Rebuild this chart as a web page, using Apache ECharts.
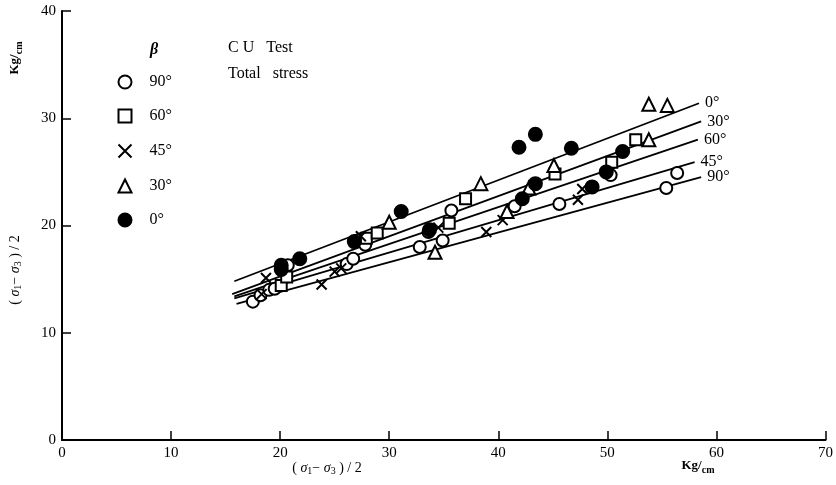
<!DOCTYPE html>
<html>
<head>
<meta charset="utf-8">
<script src="https://cdn.jsdelivr.net/npm/echarts@6/dist/echarts.min.js"></script>
<style>
  html, body { margin: 0; padding: 0; background: #fff; }
  #chart { width: 836px; height: 485px; }
</style>
</head>
<body>
<div id="chart"></div>
<script>
// 试验点 β (x, y) 单位 Kg/cm²
const beta90 = [[17.5, 12.9], [18.2, 13.5], [19.0, 14.0], [19.5, 14.1], [20.7, 16.3], [26.1, 16.4], [26.7, 16.9],
  [27.8, 18.2], [32.8, 18.0], [33.6, 19.4], [34.9, 18.6], [35.7, 21.4], [41.5, 21.8], [45.6, 22.0],
  [50.3, 24.7], [55.4, 23.5], [56.4, 24.9]]
const beta60 = [[20.1, 14.4], [20.6, 15.2], [27.9, 18.8], [28.9, 19.3], [35.5, 20.2], [37.0, 22.5],
  [45.2, 24.8], [50.4, 25.9], [52.6, 28.0]]
const beta45 = [[18.3, 13.6], [18.7, 15.1], [23.8, 14.5], [25.0, 15.7], [25.6, 16.0], [27.4, 19.0],
  [34.5, 19.8], [38.9, 19.4], [40.4, 20.5], [47.3, 22.4], [47.7, 23.4]]
const beta30 = [[30.0, 20.3], [34.2, 17.5], [38.4, 23.9], [40.8, 21.3], [42.8, 23.5], [45.1, 25.6],
  [53.8, 31.3], [55.5, 31.2], [53.8, 28.0]]
const beta0 = [[20.1, 16.3], [20.1, 15.9], [21.8, 16.9], [26.8, 18.5], [33.7, 19.6], [31.1, 21.3],
  [41.9, 27.3], [43.4, 28.5], [46.7, 27.2], [43.4, 23.9], [42.2, 22.5], [48.6, 23.6], [49.9, 25.0], [51.4, 26.9]]

// 回归直线 (起点, 终点)
const fit0 = [[15.8, 14.8], [58.4, 31.4]]
const fit30 = [[15.6, 13.6], [58.6, 29.7]]
const fit60 = [[15.8, 13.4], [58.3, 28.0]]
const fit45 = [[15.8, 13.2], [58.0, 25.9]]
const fit90 = [[16.0, 12.7], [58.6, 24.5]]

const xTicks = [0, 70, 10]
const yTicks = [0, 40, 10]

const serif = '"Liberation Serif", "DejaVu Serif", serif'
const crossPath = 'path://M0,0L10,10M10,0L0,10'

function fitLine(label, data) {
  return {
    name: 'fit ' + label,
    type: 'line',
    data: data,
    symbol: 'none',
    silent: true,
    z: 1,
    color: '#000',
    lineStyle: { color: '#000', width: 1.8 },
    endLabel: {
      show: true,
      formatter: label,
      color: '#000',
      fontFamily: serif,
      fontSize: 16,
      distance: 6
    }
  }
}

function points(name, data, symbol, size, filled) {
  return {
    name: name,
    type: 'scatter',
    data: data,
    symbol: symbol,
    symbolSize: size,
    z: 3,
    color: filled ? '#000' : '#fff',
    itemStyle: {
      color: filled ? '#000' : (symbol === crossPath ? 'none' : '#fff'),
      borderColor: '#000',
      borderWidth: 2,
      opacity: 1
    }
  }
}

const myChart = echarts.init(document.getElementById('chart'))
const option = {
  animation: false,
  backgroundColor: '#fff',
  grid: { left: 62, right: 10, top: 11, bottom: 45 },
  xAxis: {
    type: 'value',
    min: xTicks[0], max: xTicks[1], interval: xTicks[2],
    axisLine: { lineStyle: { color: '#000', width: 2 } },
    axisTick: { inside: true, length: 9, lineStyle: { color: '#000', width: 1.5 } },
    axisLabel: { color: '#000', fontFamily: serif, fontSize: 15, margin: 6 },
    splitLine: { show: false }
  },
  yAxis: {
    type: 'value',
    min: yTicks[0], max: yTicks[1], interval: yTicks[2],
    axisLine: { show: true, lineStyle: { color: '#000', width: 2 } },
    axisTick: { show: true, inside: true, length: 9, lineStyle: { color: '#000', width: 1.5 } },
    axisLabel: { color: '#000', fontFamily: serif, fontSize: 15, margin: 6 },
    splitLine: { show: false }
  },
  legend: {
    data: ['90°', '60°', '45°', '30°', '0°'],
    orient: 'vertical',
    left: 111,
    top: 69,
    itemWidth: 13,
    itemHeight: 13,
    itemGap: 18,
    selectedMode: false,
    textStyle: { color: '#000', fontFamily: serif, fontSize: 16, padding: [0, 0, 0, 13] }
  },
  graphic: [
    { type: 'text', left: 150, top: 42, style: { text: 'β', font: 'italic bold 16px ' + serif, fill: '#000' } },
    { type: 'text', left: 228, top: 40, style: { text: 'C U   Test', font: '16px ' + serif, fill: '#000' } },
    { type: 'text', left: 228, top: 66, style: { text: 'Total   stress', font: '16px ' + serif, fill: '#000' } },
    {
      type: 'text', x: 327, y: 468,
      style: {
        text: '( {b|σ}{s|1}− {b|σ}{s|3} ) / 2', fill: '#000', align: 'center', verticalAlign: 'middle',
        font: '14px ' + serif,
        rich: { b: { fontFamily: serif, fontSize: 14, fontStyle: 'italic' }, s: { fontFamily: serif, fontSize: 10, padding: [6, 0, 0, 0] } }
      }
    },
    {
      type: 'text', x: 698, y: 466,
      style: {
        text: 'Kg/{s|cm}', fill: '#000', align: 'center', verticalAlign: 'middle',
        font: 'bold 13px ' + serif,
        rich: { s: { fontFamily: serif, fontSize: 10, fontWeight: 'bold', padding: [8, 0, 0, 0] } }
      }
    },
    {
      type: 'text', x: 15, y: 270, rotation: Math.PI / 2,
      style: {
        text: '( {b|σ}{s|1}− {b|σ}{s|3} ) / 2', fill: '#000', align: 'center', verticalAlign: 'middle',
        font: '14px ' + serif,
        rich: { b: { fontFamily: serif, fontSize: 14, fontStyle: 'italic' }, s: { fontFamily: serif, fontSize: 10, padding: [6, 0, 0, 0] } }
      }
    },
    {
      type: 'text', x: 15, y: 58, rotation: Math.PI / 2,
      style: {
        text: 'Kg/{s|cm}', fill: '#000', align: 'center', verticalAlign: 'middle',
        font: 'bold 13px ' + serif,
        rich: { s: { fontFamily: serif, fontSize: 10, fontWeight: 'bold', padding: [8, 0, 0, 0] } }
      }
    }
  ],
  series: [
    fitLine('0°', fit0),
    fitLine('30°', fit30),
    fitLine('60°', fit60),
    fitLine('45°', fit45),
    fitLine('90°', fit90),
    points('90°', beta90, 'circle', 12, false),
    points('60°', beta60, 'rect', 11, false),
    points('45°', beta45, crossPath, 10, false),
    points('30°', beta30, 'triangle', 13, false),
    points('0°', beta0, 'circle', 13, true)
  ]
}
myChart.setOption(option)
</script>
</body>
</html>
